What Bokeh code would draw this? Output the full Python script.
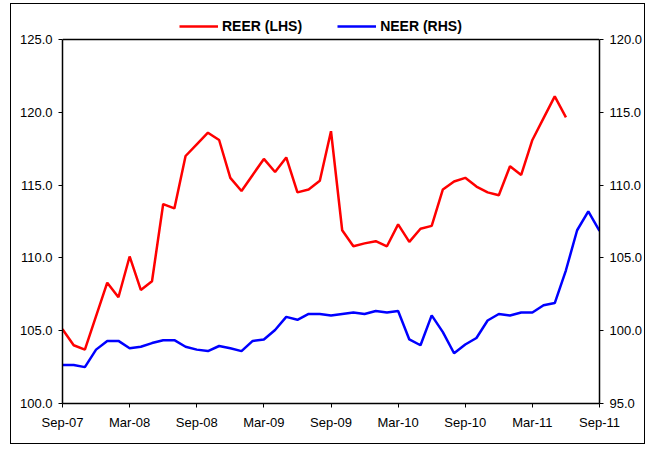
from bokeh.plotting import figure
from bokeh.models import Range1d, LinearAxis, FixedTicker, Legend, LegendItem, PrintfTickFormatter, Span
from bokeh.embed import file_html
from bokeh.resources import INLINE

tick_labels = ["Sep-07", "Mar-08", "Sep-08", "Mar-09", "Sep-09", "Mar-10", "Sep-10", "Mar-11", "Sep-11"]
tick_months = [0, 6, 12, 18, 24, 30, 36, 42, 48]
left_ticks = [100, 105, 110, 115, 120, 125]
right_ticks = [95, 100, 105, 110, 115, 120]

# REER (LHS), monthly Sep-07 .. Jun-11
reer = [105.1, 104.0, 103.7, 106.0, 108.3, 107.3, 110.1, 107.8, 108.4, 113.7,
        113.4, 117.0, 117.8, 118.6, 118.1, 115.5, 114.6, 115.7, 116.8, 115.9,
        116.9, 114.5, 114.7, 115.3, 118.7, 111.9, 110.8, 111.0, 111.15, 110.8,
        112.3, 111.1, 112.0, 112.2, 114.7, 115.25, 115.5, 114.9, 114.5, 114.3,
        116.3, 115.7, 118.1, 119.6, 121.1, 119.65]
# NEER (RHS), monthly Sep-07 .. Sep-11
neer = [97.65, 97.65, 97.5, 98.7, 99.3, 99.3, 98.8, 98.9, 99.15, 99.35,
        99.35, 98.9, 98.7, 98.6, 98.95, 98.8, 98.6, 99.3, 99.4, 100.05,
        100.95, 100.75, 101.15, 101.15, 101.05, 101.15, 101.25, 101.15, 101.35, 101.25,
        101.35, 99.4, 99.0, 101.05, 99.9, 98.45, 99.05, 99.5, 100.7, 101.15,
        101.05, 101.25, 101.25, 101.75, 101.9, 104.15, 106.9, 108.2, 106.85]

FONT = "Liberation Sans"

# extra headroom above 125 / 120 holds the legend (plot box top drawn at 125)
HEAD = 2.2

p = figure(width=635, height=441, output_backend="svg", toolbar_location=None,
           x_range=Range1d(0, 48), y_range=Range1d(100, 125 + HEAD),
           min_border_left=51, min_border_right=47, min_border_top=3, min_border_bottom=42,
           background_fill_color="white", border_fill_color="white")
p.margin = (3, 0, 0, 10)
p.styles = {"border": "1px solid black"}
p.extra_y_ranges = {"right": Range1d(95, 120 + HEAD)}

p.xgrid.visible = False
p.ygrid.visible = False
p.outline_line_color = None

top_line = Span(location=125, dimension="width", line_color="black", line_width=1.5)
p.add_layout(top_line)

r1 = p.line(list(range(len(reer))), reer, line_color="#FF0000", line_width=2.5)
r2 = p.line(list(range(len(neer))), neer, line_color="#0000FF", line_width=2.5, y_range_name="right")

right_axis = LinearAxis(y_range_name="right")
p.add_layout(right_axis, "right")

p.xaxis.ticker = FixedTicker(ticks=tick_months)
p.xaxis.major_label_overrides = {m: l for m, l in zip(tick_months, tick_labels)}
p.xaxis.major_label_standoff = 7

p.yaxis[0].ticker = FixedTicker(ticks=left_ticks)
p.yaxis[0].bounds = (100, 125)
right_axis.ticker = FixedTicker(ticks=right_ticks)
right_axis.bounds = (95, 120)

for ax in [p.xaxis[0], p.yaxis[0], right_axis]:
    ax.axis_line_color = "black"
    ax.axis_line_width = 1.5
    ax.major_tick_line_color = "black"
    ax.major_tick_line_width = 1
    ax.major_tick_in = 0
    ax.major_tick_out = 4
    ax.minor_tick_line_color = None
    ax.major_label_text_font = FONT
    ax.major_label_text_font_size = "13px"
    ax.major_label_text_color = "black"
for ax in [p.yaxis[0], right_axis]:
    ax.formatter = PrintfTickFormatter(format="%.1f")
    ax.major_label_standoff = 6

legend = Legend(items=[LegendItem(label="REER (LHS)", renderers=[r1]),
                       LegendItem(label="NEER (RHS)", renderers=[r2])],
                orientation="horizontal", location=(117, 369),
                label_text_font=FONT, label_text_font_style="bold",
                label_text_font_size="14px", label_text_color="black",
                glyph_width=39, glyph_height=12, label_standoff=4, spacing=35,
                border_line_color=None, background_fill_color="white",
                background_fill_alpha=1.0, padding=4, margin=0)
p.add_layout(legend, "center")

open("out.html", "w").write(file_html(p, INLINE))
